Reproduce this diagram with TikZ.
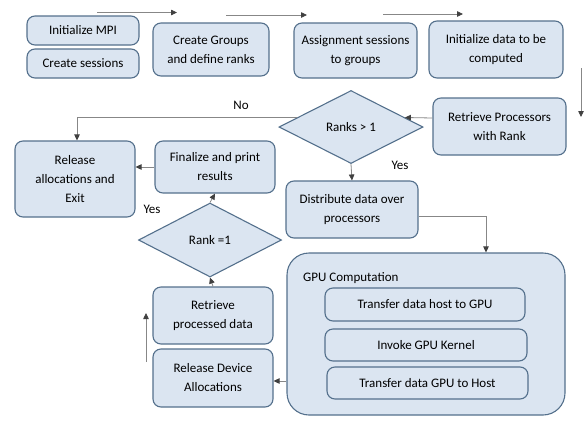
\documentclass[tikz,border=0pt]{standalone}
\usepackage{fontspec}
\setmainfont{Carlito}
\usepackage{tikz}
\usetikzlibrary{shapes.geometric}
\usetikzlibrary{arrows.meta}

\definecolor{boxfill}{RGB}{219,229,241}
\definecolor{boxline}{RGB}{84,112,140}
\definecolor{linegray}{RGB}{135,135,135}
\definecolor{tipgray}{RGB}{64,64,64}
\newcommand{\stepfont}{\fontsize{13}{19}\selectfont}

\begin{document}
\begin{tikzpicture}[x=1pt, y=-1pt,
                          stepbox/.style={rectangle, rounded corners=8pt, draw=boxline, fill=boxfill, line width=1.1pt, align=center, inner sep=2pt, font=\stepfont},
                          decision/.style={diamond, draw=boxline, fill=boxfill, line width=1.1pt, inner sep=0pt, font=\stepfont},
                          labeltext/.style={font=\stepfont, inner sep=0pt},
                          flow/.style={draw=linegray, line width=0.8pt, -{Triangle[length=6pt, width=5.5pt, color=tipgray]}},
                      ]
                      \useasboundingbox (0,0) rectangle (584,421);

                      % Nodes
                      \node[stepbox, minimum width=112pt, minimum height=29pt]  (init_mpi)        at (83,30.5)    {Initialize MPI};
                      \node[stepbox, minimum width=112pt, minimum height=29pt]  (create_sessions) at (83,63.5)    {Create sessions};
                      \node[stepbox, minimum width=116pt, minimum height=53pt]  (create_groups)   at (211,49.5)   {Create Groups\\and define ranks};
                      \node[stepbox, minimum width=123pt, minimum height=55pt]  (assign_sessions) at (355.5,50.5) {Assignment sessions\\to groups};
                      \node[stepbox, minimum width=134pt, minimum height=57pt]  (init_data)       at (496,49.5)   {Initialize data to be\\computed};
                      \node[stepbox, minimum width=133pt, minimum height=57pt]  (retrieve_procs)  at (499.5,126.5) {Retrieve Processors\\with Rank};

                      \node[decision, minimum width=144pt, minimum height=73pt] (ranks)           at (351,127)    {Ranks > 1};
                      \node[stepbox, minimum width=120pt, minimum height=76pt]  (release_exit)    at (75,179)     {Release\\allocations and\\Exit};
                      \node[stepbox, minimum width=120pt, minimum height=52pt]  (finalize)        at (215,167)    {Finalize and print\\results};
                      \node[stepbox, minimum width=132pt, minimum height=57pt]  (distribute)      at (352,209.5)  {Distribute data over\\processors};

                      \node[decision, minimum width=143pt, minimum height=74pt] (rank_one)        at (210,240)    {Rank =1};
                      \node[stepbox, minimum width=120pt, minimum height=57pt]  (retrieve_data)   at (213,315.5)  {Retrieve\\processed data};
                      \node[stepbox, minimum width=120pt, minimum height=58pt]  (release_device)  at (213,378)    {Release Device\\Allocations};

                      \node[stepbox, rounded corners=22pt, minimum width=278pt, minimum height=162pt] (gpu) at (426,334) {};
                      \node[labeltext, anchor=west]                             (gpu_title)       at (303,278)    {GPU Computation};
                      \node[stepbox, minimum width=200pt, minimum height=33pt]  (host_to_gpu)     at (425,304.5)  {Transfer data host to GPU};
                      \node[stepbox, minimum width=202pt, minimum height=32pt]  (invoke_kernel)   at (426,345)    {Invoke GPU Kernel};
                      \node[stepbox, minimum width=201pt, minimum height=32pt]  (gpu_to_host)     at (427.5,383)  {Transfer data GPU to Host};

                      \node[labeltext] (no_label)     at (241,105) {No};
                      \node[labeltext] (yes_ranks)    at (400,165) {Yes};
                      \node[labeltext] (yes_rank_one) at (152,209) {Yes};

                      % Free arrows
                      \coordinate (arrow_1_start) at (97,12.5);
                      \coordinate (arrow_1_end)   at (177,12.5);
                      \coordinate (arrow_2_start) at (226,15);
                      \coordinate (arrow_2_end)   at (307,15);
                      \coordinate (arrow_3_start) at (383,14);
                      \coordinate (arrow_3_end)   at (463,14);
                      \coordinate (arrow_4_start) at (581,68);
                      \coordinate (arrow_4_end)   at (581,117);
                      \coordinate (arrow_5_start) at (146,362);
                      \coordinate (arrow_5_end)   at (146,313);

                      %Lines
                      \draw[flow] (arrow_1_start) -- (arrow_1_end);
                      \draw[flow] (arrow_2_start) -- (arrow_2_end);
                      \draw[flow] (arrow_3_start) -- (arrow_3_end);
                      \draw[flow] (arrow_4_start) -- (arrow_4_end);
                      \draw[flow] (arrow_5_start) -- (arrow_5_end);
                      \draw[flow] ([yshift=8.5pt]retrieve_procs.west) -- (ranks.10);
                      \draw[flow] (ranks.170) -| ([xshift=2pt]release_exit.north);
                      \draw[flow] (ranks.south) -- (distribute.north);
                      \draw[flow] ([yshift=-6.5pt]distribute.east) -| ([xshift=60pt]gpu.north);
                      \draw[flow] ([yshift=-3pt]release_device.east -| gpu.west) -- ([yshift=-3pt]release_device.east);
                      \draw[flow] (retrieve_data.north) -- (rank_one.south);
                      \draw[flow] (rank_one.north) -- (finalize.south);
                      \draw[flow] (finalize.west) -- (finalize.west -| release_exit.east);
                  \end{tikzpicture}
\end{document}
